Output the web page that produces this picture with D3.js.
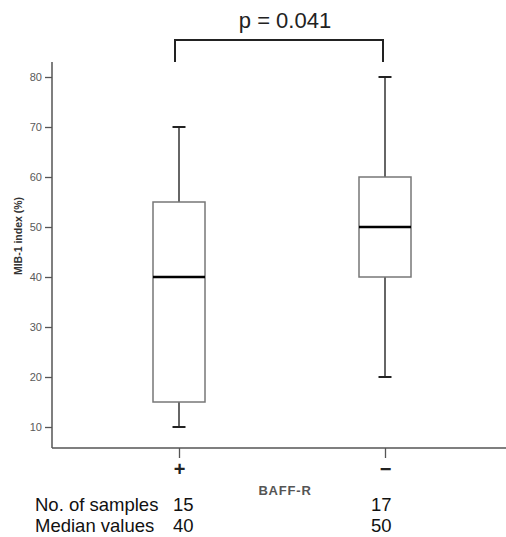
<!DOCTYPE html>
<html><head><meta charset="utf-8">
<script src="https://cdn.jsdelivr.net/npm/d3@7"></script>
<style>body{margin:0;background:#fff}svg{display:block}</style>
</head><body>
<svg id="c" width="506" height="537"></svg>
<script>
const groups = ["+", "−"];
const whiskerLow = [10, 20];
const q1 = [15, 40];
const medians = [40, 50];
const q3 = [55, 60];
const whiskerHigh = [70, 80];
const sampleCounts = [15, 17];
const medianLabels = [40, 50];
const yTicks = [10, 20, 30, 40, 50, 60, 70, 80];
const pText = "p = 0.041";

const font = "Liberation Sans, Arial, sans-serif";
const svg = d3.select("#c");
const y = d3.scaleLinear().domain([0, 80]).range([477, 77]);
const x = d3.scalePoint().domain(groups).range([179, 385]);
const axisX = 52, axisBottom = 448;

// y axis
const yAxis = d3.axisLeft(y).tickValues(yTicks).tickSize(7).tickPadding(3);
const yg = svg.append("g").attr("transform", `translate(${axisX},0)`).call(yAxis);
yg.select(".domain").remove();
yg.selectAll(".tick line").attr("stroke", "#555").attr("stroke-width", 1.3);
yg.selectAll(".tick text").attr("font-family", font)
  .attr("font-size", 11).attr("fill", "#5a5a5a");
svg.append("line").attr("x1", axisX).attr("x2", axisX).attr("y1", 62).attr("y2", axisBottom)
  .attr("stroke", "#555").attr("stroke-width", 1.5);

// x axis
svg.append("line").attr("x1", axisX).attr("x2", 506).attr("y1", axisBottom).attr("y2", axisBottom)
  .attr("stroke", "#555").attr("stroke-width", 1.5);
const xAxis = d3.axisBottom(x).tickSize(10).tickPadding(4);
const xg = svg.append("g").attr("transform", `translate(0,${axisBottom})`).call(xAxis);
xg.select(".domain").remove();
xg.selectAll(".tick line").attr("stroke", "#555").attr("stroke-width", 1.3);
xg.selectAll(".tick text").attr("font-family", font)
  .attr("font-size", 20).attr("font-weight", "bold").attr("fill", "#222");

// y label
svg.append("text").attr("transform", "translate(22,236) rotate(-90)")
  .attr("text-anchor", "middle").attr("font-family", font)
  .attr("font-size", 10.5).attr("font-weight", "bold").attr("fill", "#333").text("MIB-1 index (%)");

// x label
svg.append("text").attr("x", 285).attr("y", 495).attr("text-anchor", "middle")
  .attr("font-family", font).attr("font-size", 13).attr("letter-spacing", 0.8)
  .attr("font-weight", "bold").attr("fill", "#555").text("BAFF-R");

// boxes
const boxW = 52, capW = 13;
groups.forEach((g, i) => {
  const cx = x(g);
  const gg = svg.append("g");
  gg.append("line").attr("x1", cx).attr("x2", cx).attr("y1", y(whiskerHigh[i])).attr("y2", y(q3[i]))
    .attr("stroke", "#333").attr("stroke-width", 1.5);
  gg.append("line").attr("x1", cx).attr("x2", cx).attr("y1", y(q1[i])).attr("y2", y(whiskerLow[i]))
    .attr("stroke", "#333").attr("stroke-width", 1.5);
  [whiskerHigh[i], whiskerLow[i]].forEach(v => {
    gg.append("line").attr("x1", cx - capW / 2).attr("x2", cx + capW / 2).attr("y1", y(v)).attr("y2", y(v))
      .attr("stroke", "#222").attr("stroke-width", 2);
  });
  gg.append("rect").attr("x", cx - boxW / 2).attr("y", y(q3[i])).attr("width", boxW)
    .attr("height", y(q1[i]) - y(q3[i])).attr("fill", "#fff").attr("stroke", "#777").attr("stroke-width", 1.5);
  gg.append("line").attr("x1", cx - boxW / 2).attr("x2", cx + boxW / 2).attr("y1", y(medians[i])).attr("y2", y(medians[i]))
    .attr("stroke", "#000").attr("stroke-width", 2.5);
});

// significance bracket
const bx1 = x(groups[0]) - 4, bx2 = x(groups[1]) - 2;
svg.append("path").attr("d", `M${bx1},62V40H${bx2}V62`).attr("fill", "none")
  .attr("stroke", "#222").attr("stroke-width", 2);
svg.append("text").attr("x", 285).attr("y", 28).attr("text-anchor", "middle")
  .attr("font-family", font).attr("font-size", 22).attr("fill", "#222").text(pText);

// table below
const rows = [["No. of samples", sampleCounts, 511], ["Median values", medianLabels, 532]];
rows.forEach(([lab, vals, yy]) => {
  svg.append("text").attr("x", 35).attr("y", yy).attr("font-family", font).attr("font-size", 18.5)
    .attr("fill", "#111").text(lab);
  vals.forEach((v, i) => {
    svg.append("text").attr("x", x(groups[i]) - 6 - (i ? 8 : 0)).attr("y", yy).attr("font-family", font)
      .attr("font-size", 18.5).attr("fill", "#111").text(v);
  });
});
</script>
</body></html>
